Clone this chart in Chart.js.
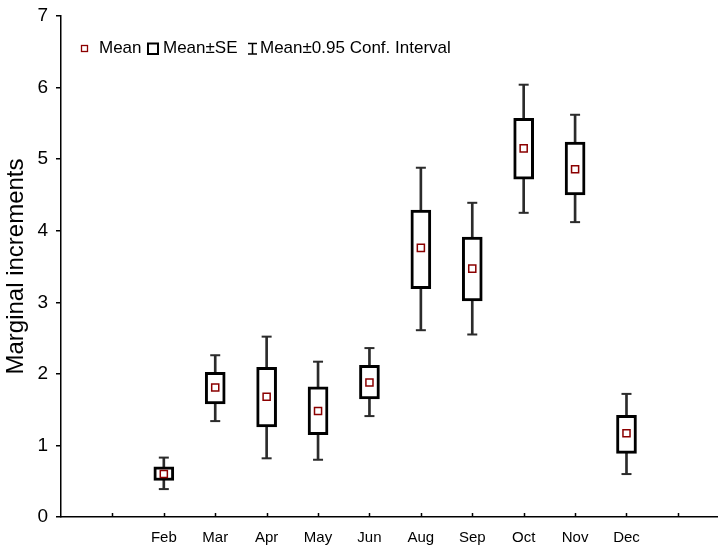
<!DOCTYPE html>
<html>
<head>
<meta charset="utf-8">
<script src="https://cdn.jsdelivr.net/npm/chart.js@4.4.0/dist/chart.umd.min.js"></script>
<style>
  html, body { margin: 0; padding: 0; background: #fff; }
  #wrap { width: 718px; height: 547px; }
</style>
</head>
<body>
<div id="wrap"><canvas id="chart" width="718" height="547"></canvas></div>
<script>
// --- Data ---
const months = ['Feb', 'Mar', 'Apr', 'May', 'Jun', 'Aug', 'Sep', 'Oct', 'Nov', 'Dec'];
const slots = [2, 3, 4, 5, 6, 7, 8, 9, 10, 11];          // x positions of the months
const xTickLabels = ['', '', 'Feb', 'Mar', 'Apr', 'May', 'Jun', 'Aug', 'Sep', 'Oct', 'Nov', 'Dec', ''];
const means  = [0.60, 1.81, 1.68, 1.48, 1.88, 3.76, 3.47, 5.15, 4.86, 1.17];
const seLow  = [0.51, 1.58, 1.26, 1.15, 1.65, 3.19, 3.02, 4.72, 4.50, 0.89];
const seHigh = [0.70, 2.02, 2.09, 1.82, 2.12, 4.29, 3.91, 5.57, 5.24, 1.42];
const ciLow  = [0.39, 1.34, 0.82, 0.80, 1.41, 2.61, 2.55, 4.25, 4.12, 0.60];
const ciHigh = [0.83, 2.26, 2.52, 2.17, 2.36, 4.88, 4.39, 6.04, 5.62, 1.72];
const yTicks = [0, 1, 2, 3, 4, 5, 6, 7];

const FONT = "'Liberation Sans', Arial, sans-serif";
const MEAN_RED = '#8b0000';

// inward x ticks / legend drawn by hand
const extrasPlugin = {
    id: 'extras',
    afterDraw(chart) {
        const ctx = chart.ctx;
        const xs = chart.scales.x;
        const ca = chart.chartArea;
        ctx.save();
        ctx.strokeStyle = '#000';
        ctx.lineWidth = 1.5;
        for (let i = 1; i < xTickLabels.length; i++) {
            const px = Math.round(xs.getPixelForValue(i)) + 0.5;
            ctx.beginPath();
            ctx.moveTo(px, ca.bottom);
            ctx.lineTo(px, ca.bottom - 4);
            ctx.stroke();
        }

        // legend
        const ly = 48.5;
        ctx.font = '17px ' + FONT;
        ctx.fillStyle = '#000';
        ctx.textBaseline = 'middle';
        ctx.textAlign = 'left';

        ctx.strokeStyle = MEAN_RED;
        ctx.lineWidth = 1.3;
        ctx.strokeRect(81.5, ly - 3, 6, 6);
        ctx.fillText('Mean', 99, ly);

        ctx.strokeStyle = '#000';
        ctx.lineWidth = 2;
        ctx.strokeRect(148, 43.5, 10, 10.5);
        ctx.fillText('Mean\u00b1SE', 163, ly);

        ctx.lineWidth = 1.5;
        ctx.beginPath();
        ctx.moveTo(252.5, 43); ctx.lineTo(252.5, 54.5);
        ctx.moveTo(248, 43.5); ctx.lineTo(257, 43.5);
        ctx.moveTo(248, 54);   ctx.lineTo(257, 54);
        ctx.stroke();
        ctx.fillText('Mean\u00b10.95 Conf. Interval', 260, ly);
        ctx.restore();
    }
};

const ctx = document.getElementById('chart').getContext('2d');
new Chart(ctx, {
    type: 'bar',
    data: {
        datasets: [
            {
                // confidence interval stem
                type: 'bar',
                label: 'CI',
                data: slots.map((s, i) => ({ x: s, y: [ciLow[i], ciHigh[i]] })),
                backgroundColor: '#2b2b2b',
                borderWidth: 0,
                barThickness: 2,
                grouped: false,
                order: 3
            },
            {
                // standard error box
                type: 'bar',
                label: 'SE',
                data: slots.map((s, i) => ({ x: s, y: [seLow[i], seHigh[i]] })),
                backgroundColor: '#ffffff',
                borderColor: '#000000',
                borderWidth: 3,
                borderSkipped: false,
                barThickness: 20,
                grouped: false,
                order: 2
            },
            {
                // whisker caps
                type: 'scatter',
                label: 'caps',
                data: slots.flatMap((s, i) => [{ x: s, y: ciLow[i] }, { x: s, y: ciHigh[i] }]),
                pointStyle: 'line',
                radius: 5,
                borderColor: '#2b2b2b',
                borderWidth: 2,
                order: 1
            },
            {
                type: 'scatter',
                label: 'Mean',
                data: slots.map((s, i) => ({ x: s, y: means[i] })),
                pointStyle: 'rect',
                radius: 5,
                backgroundColor: '#ffffff',
                borderColor: MEAN_RED,
                borderWidth: 1.5,
                order: 0
            }
        ]
    },
    options: {
        responsive: false,
        animation: false,
        layout: { autoPadding: false, padding: { top: 16, right: 0, left: 0, bottom: 0 } },
        plugins: {
            legend: { display: false },
            tooltip: { enabled: false }
        },
        scales: {
            x: {
                type: 'linear',
                offset: false,
                min: 0,
                max: 12.78,
                afterBuildTicks: (scale) => {
                    scale.ticks = xTickLabels.map((_, i) => ({ value: i }));
                },
                afterFit: (scale) => {
                    scale.height = 30;
                    scale.paddingLeft = 0;
                    scale.paddingRight = 0;
                },
                ticks: {
                    callback: (v) => xTickLabels[v] || '',
                    color: '#000',
                    font: { family: FONT, size: 15 },
                    maxRotation: 0,
                    autoSkip: false,
                    padding: 4
                },
                grid: { display: false },
                border: { color: '#000', width: 1.5 }
            },
            y: {
                min: 0,
                max: 7,
                afterBuildTicks: (scale) => {
                    scale.ticks = yTicks.map(v => ({ value: v }));
                },
                afterFit: (scale) => {
                    scale.width = 61;
                    scale.paddingTop = 0;
                    scale.paddingBottom = 0;
                },
                ticks: {
                    color: '#000',
                    font: { family: FONT, size: 19 },
                    padding: 8
                },
                grid: { drawOnChartArea: false, tickLength: 5, color: '#000', lineWidth: 1.5 },
                border: { color: '#000', width: 1.5 },
                title: {
                    display: true,
                    text: 'Marginal increments',
                    color: '#000',
                    font: { family: FONT, size: 24 },
                    padding: { top: 2, bottom: 0 }
                }
            }
        }
    },
    plugins: [extrasPlugin]
});
</script>
</body>
</html>
